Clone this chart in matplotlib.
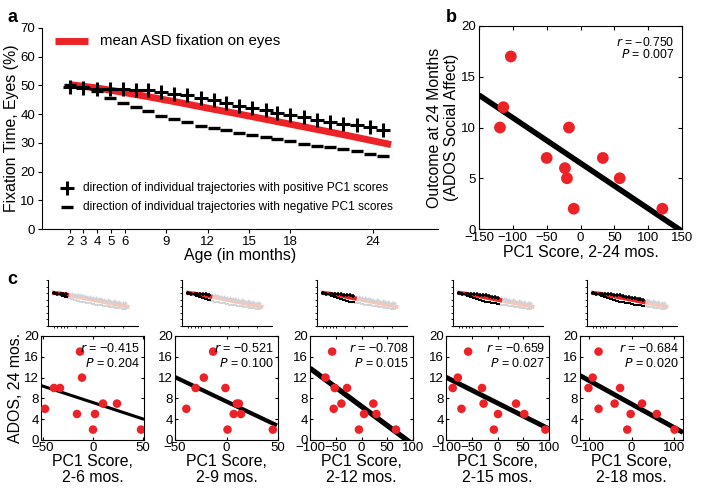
import numpy as np
import matplotlib
matplotlib.use("Agg")
import matplotlib.pyplot as plt

plt.rcParams['font.family'] = ['Liberation Sans', 'DejaVu Sans']

# ---------------- data ----------------
# panel a
age_ticks = [2, 3, 4, 5, 6, 9, 12, 15, 18, 24]
traj_age = [2, 3, 4, 4.9, 5.85, 6.8, 7.7, 8.6, 9.6, 10.5, 11.5, 12.5, 13.3,
            14.3, 15.2, 16.2, 17.0, 18.0, 19.0, 19.9, 20.9, 21.8, 22.8, 23.8, 24.7]
pos_traj = [49.5, 49.1, 48.8, 48.8, 48.8, 48.5, 48.3, 47.7, 47.0, 46.5, 45.6,
            44.8, 43.9, 43.0, 42.2, 41.3, 40.4, 39.6, 38.9, 38.1, 37.3, 36.7,
            36.1, 35.4, 34.6]
neg_traj = [50.3, 49.3, 48.0, 45.6, 43.9, 42.4, 41.0, 39.5, 38.3, 37.2, 36.0,
            35.2, 34.4, 33.4, 32.6, 32.0, 31.4, 30.5, 29.7, 29.0, 28.5, 27.9,
            27.1, 26.2, 25.3]
mean_age = [2, 4, 6, 8, 10, 12, 14, 16, 18, 20, 22, 24, 25.3]
mean_eyes = [50.3, 49.1, 47.5, 45.8, 44.0, 42.1, 40.3, 38.4, 36.5, 34.6, 32.7,
             30.7, 29.4]

# panel b
ados = [17, 12, 10, 10, 7, 7, 6, 5, 5, 2, 2]
pc1_b = [-103, -114, -119, -17, -50, 33, -23, -20, 58, -10, 121]
fit_b = (-0.0447, 6.49)   # slope, intercept
stats_b = ("\u22120.750", "0.007")

# panel c
c_windows = ["2-6", "2-9", "2-12", "2-15", "2-18"]
c_cut = [6, 9, 12, 15, 18]
c_ados = [
    [6, 10, 10, 17, 12, 5, 2, 5, 7, 7, 2],
    [6, 10, 12, 17, 10, 2, 5, 7, 7, 5, 2],
    [12, 17, 10, 6, 7, 10, 2, 5, 7, 5, 2],
    [10, 12, 17, 6, 10, 7, 5, 2, 7, 5, 2],
    [10, 12, 17, 6, 7, 10, 5, 2, 7, 5, 2],
]
c_pc1 = [
    [-48, -39, -33, -13, -11, -16, 0, 2, 10, 24, 48],
    [-39, -30, -22, -13, -1, 1, 7, 10, 12, 14, 45],
    [-70, -57, -52, -54, -39, -28, -5, 5, 23, 29, 67],
    [-87, -77, -57, -70, -30, -27, 1, -7, 36, 52, 93],
    [-102, -92, -78, -78, -40, -27, -2, -10, 25, 60, 102],
]
c_fit = [(-0.063, 7.2), (-0.094, 7.4), (-0.0734, 6.46), (-0.0497, 7.1), (-0.0449, 6.92)]
c_r = ["\u22120.415", "\u22120.521", "\u22120.708", "\u22120.659", "\u22120.684"]
c_p = ["0.204", "0.100", "0.015", "0.027", "0.020"]
c_xlim = [(-52, 51), (-50, 49), (-100, 100), (-100, 100), (-122, 122)]
c_xticks = [[-50, 0, 50], [-50, 0, 50], [-100, -50, 0, 50, 100],
            [-100, -50, 0, 50, 100], [-100, 0, 100]]

# ---------------- figure ----------------
W, H = 701, 492
fig = plt.figure(figsize=(W / 100, H / 100), dpi=100)

def px_axes(l, t, r, b):
    return fig.add_axes([l / W, 1 - b / H, (r - l) / W, (b - t) / H])

RED = '#ec2227'
TICK_FS = 9.5
LAB_FS = 11.4

# ---- panel a ----
ax = px_axes(42, 28, 438, 229)
ax.plot(mean_age, mean_eyes, color=RED, lw=5, solid_capstyle='butt', zorder=2)
ax.plot(traj_age, pos_traj, ls='none', marker='+', ms=10, mew=2.2, color='k', zorder=3)
ax.plot(traj_age, neg_traj, ls='none', marker='_', ms=8, mew=2.4, color='k', zorder=3)
ax.set_xlim(0, 28.7)
ax.set_ylim(0, 70)
ax.set_xticks(age_ticks)
ax.set_yticks(range(0, 71, 10))
ax.spines['top'].set_visible(False)
ax.spines['right'].set_visible(False)
ax.tick_params(direction='out', length=3, labelsize=TICK_FS, pad=2)
ax.set_xlabel('Age (in months)', fontsize=LAB_FS, labelpad=0)
ax.set_ylabel('Fixation Time, Eyes (%)', fontsize=LAB_FS, labelpad=1)
ax.plot([0.033, 0.116], [0.935, 0.935], color=RED, lw=5, transform=ax.transAxes,
        solid_capstyle='butt', clip_on=False)
ax.text(0.146, 0.935, 'mean ASD fixation on eyes', transform=ax.transAxes,
        fontsize=10.8, va='center', ha='left')
ax.plot([0.063], [0.204], marker='+', ms=10, mew=2.2, color='k', transform=ax.transAxes)
ax.plot([0.063], [0.109], marker='_', ms=8, mew=2.4, color='k', transform=ax.transAxes)
ax.text(0.1035, 0.204, 'direction of individual trajectories with positive PC1 scores',
        transform=ax.transAxes, fontsize=8.6, va='center', ha='left')
ax.text(0.1035, 0.109, 'direction of individual trajectories with negative PC1 scores',
        transform=ax.transAxes, fontsize=8.6, va='center', ha='left')
fig.text(7 / W, 1 - 17 / H, 'a', fontsize=13, fontweight='bold', va='center', ha='left')

# ---- panel b ----
bx = px_axes(479, 26, 682, 229)
xl = np.array([-150, 150])
yl = fit_b[0] * xl + fit_b[1]
bx.plot(xl, yl, color='k', lw=4, solid_capstyle='butt', zorder=2)
bx.scatter(pc1_b, ados, s=72, color=RED, edgecolors='none', zorder=3)
bx.set_xlim(-150, 150)
bx.set_ylim(0, 20)
bx.set_xticks(range(-150, 151, 50))
bx.set_yticks(range(0, 21, 5))
bx.tick_params(direction='in', length=3, top=True, right=True, labelsize=TICK_FS, pad=2)
bx.set_xlabel('PC1 Score, 2-24 mos.', fontsize=LAB_FS, labelpad=1)
bx.set_ylabel('Outcome at 24 Months\n(ADOS Social Affect)', fontsize=LAB_FS, labelpad=2,
              linespacing=1.15)
bx.text(0.96, 0.92, r'$r$ = ' + stats_b[0], transform=bx.transAxes, ha='right',
        va='center', fontsize=8.8)
bx.text(0.96, 0.86, r'$P$ = ' + stats_b[1], transform=bx.transAxes, ha='right',
        va='center', fontsize=8.8)
fig.text(446 / W, 1 - 17 / H, 'b', fontsize=13, fontweight='bold', va='center', ha='left')

# ---- panel c ----
lefts = [41, 175, 310, 446, 580]
c_lw = [2.2, 3.0, 3.8, 3.5, 3.5]
FADE_K = '#cfd3d8'
FADE_R = '#f6c7b8'
for i in range(5):
    L = lefts[i]
    # thumbnail
    tx = px_axes(L + 7, 280, L + 97, 326)
    cut = c_cut[i]
    ta = np.array(traj_age)
    pa = np.array(pos_traj)
    na = np.array(neg_traj)
    ma = np.array(mean_age)
    me = np.array(mean_eyes)
    late = ta >= cut
    early = ta <= cut
    tx.plot(ma[ma >= cut - 2], me[ma >= cut - 2], color=FADE_R, lw=3, zorder=1)
    tx.plot(ta[late], pa[late], ls='none', marker='+', ms=3.5, mew=1, color=FADE_K, zorder=1)
    tx.plot(ta[late], na[late], ls='none', marker='_', ms=3.5, mew=1.3, color=FADE_K, zorder=1)
    me_cut = np.interp(cut, ma, me)
    m_early = ma < cut
    tx.plot(np.append(ma[m_early], cut), np.append(me[m_early], me_cut), color=RED,
            lw=3, zorder=2)
    tx.plot(ta[early], pa[early], ls='none', marker='+', ms=3.5, mew=1.1, color='k', zorder=3)
    tx.plot(ta[early], na[early], ls='none', marker='_', ms=3.5, mew=1.4, color='k', zorder=3)
    tx.set_xlim(0, 28.7)
    tx.set_ylim(0, 70)
    tx.set_xticks(age_ticks)
    tx.set_yticks(range(0, 71, 10))
    tx.tick_params(direction='out', length=1.5, width=0.6, labelbottom=False,
                   labelleft=False)
    tx.spines['top'].set_visible(False)
    tx.spines['right'].set_visible(False)
    for s in ('left', 'bottom'):
        tx.spines[s].set_linewidth(0.8)

    # scatter
    sx = px_axes(L, 336, L + 103, 440)
    xl = np.array(c_xlim[i])
    yl = c_fit[i][0] * xl + c_fit[i][1]
    sx.plot(xl, yl, color='k', lw=c_lw[i], solid_capstyle='butt', zorder=2)
    sx.scatter(c_pc1[i], c_ados[i], s=38, color=RED, edgecolors='none', zorder=3)
    sx.set_xlim(*c_xlim[i])
    sx.set_ylim(0, 20)
    sx.set_xticks(c_xticks[i])
    sx.set_yticks(range(0, 21, 4))
    sx.tick_params(direction='in', length=2.5, top=True, right=True,
                   labelsize=TICK_FS, pad=1.5)
    sx.set_xlabel('PC1 Score,\n' + c_windows[i] + ' mos.', fontsize=LAB_FS,
                  labelpad=0, linespacing=1.1)
    sx.text(0.96, 0.88, r'$r$ = ' + c_r[i], transform=sx.transAxes, ha='right',
            va='center', fontsize=9)
    sx.text(0.96, 0.74, r'$P$ = ' + c_p[i], transform=sx.transAxes, ha='right',
            va='center', fontsize=9)
    if i == 0:
        sx.set_ylabel('ADOS, 24 mos.', fontsize=LAB_FS, labelpad=1)

fig.text(7 / W, 1 - 279 / H, 'c', fontsize=13, fontweight='bold', va='center', ha='left')

fig.savefig('out.png', dpi=100)
